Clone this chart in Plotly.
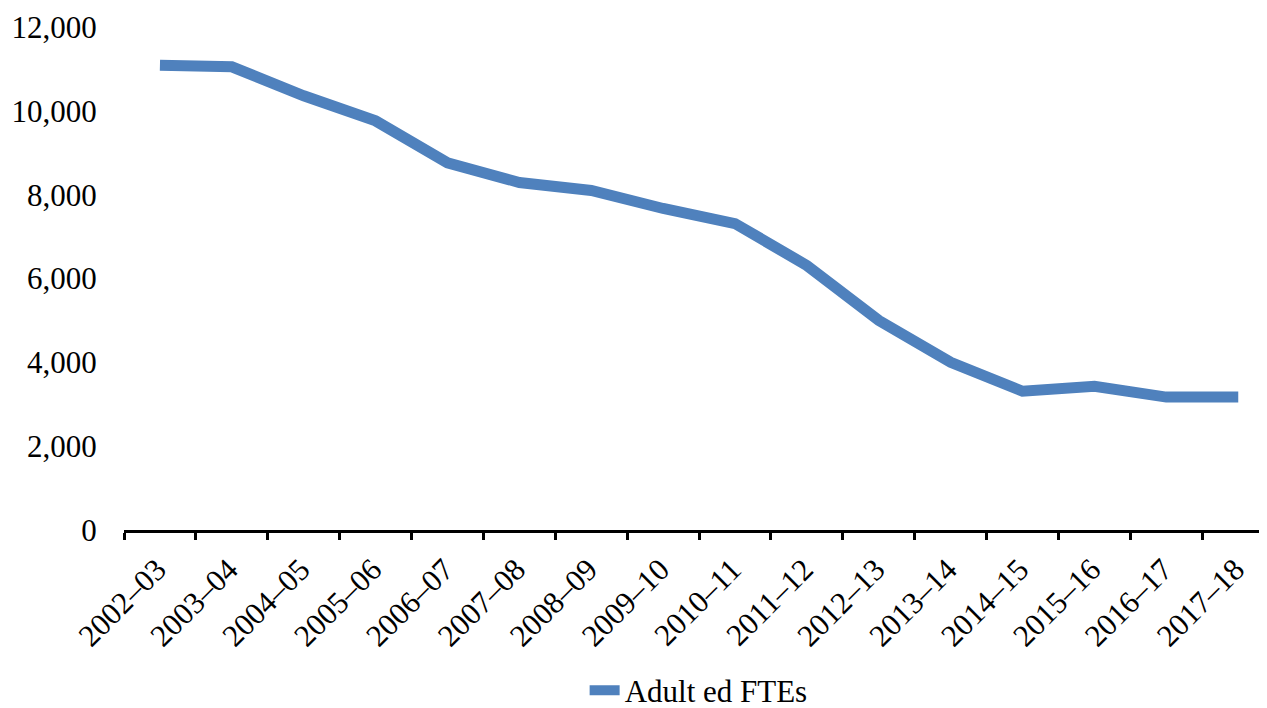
import plotly.graph_objects as go

years = ["2002–03", "2003–04", "2004–05", "2005–06", "2006–07", "2007–08", "2008–09",
         "2009–10", "2010–11", "2011–12", "2012–13", "2013–14", "2014–15", "2015–16",
         "2016–17", "2017–18"]
adult_ed_ftes = [11090, 11050, 10360, 9760, 8760, 8290, 8100, 7670, 7310, 6310, 5000,
                 4000, 3310, 3430, 3170, 3170]

series_name = "Adult ed FTEs"
y_ticks = [0, 2000, 4000, 6000, 8000, 10000, 12000]

fig = go.Figure()
fig.add_trace(go.Scatter(
    x=years, y=adult_ed_ftes, mode="lines", name=series_name,
    line=dict(color="#4F81BD", width=11),
))

font_family = "Liberation Serif, Times New Roman, serif"
fig.update_layout(
    width=1259, height=700,
    margin=dict(l=116, r=0, t=19, b=178),
    paper_bgcolor="white", plot_bgcolor="white",
    font=dict(family=font_family, size=31, color="black"),
    showlegend=True,
    legend=dict(orientation="h", x=0.403, xanchor="left",
                yref="container", y=0.025, yanchor="middle",
                font=dict(size=31)),
    xaxis=dict(
        type="category", range=[-0.5, 15.4], automargin=False,
        showline=True, linecolor="black", linewidth=3,
        ticks="outside", ticklen=7, tickwidth=3, tickcolor="black",
        tickson="boundaries", tickangle=-45, showgrid=False,
        ticklabelstandoff=6, ticklabelshift=-3,
        tickfont=dict(size=31),
    ),
    yaxis=dict(
        range=[0, 12000], tickvals=y_ticks, tickformat=",", automargin=False,
        showline=False, showgrid=False, zeroline=False,
        ticks="outside", ticklen=20, tickcolor="rgba(0,0,0,0)",
        tickfont=dict(size=31),
    ),
)

fig.write_html("out.html")
